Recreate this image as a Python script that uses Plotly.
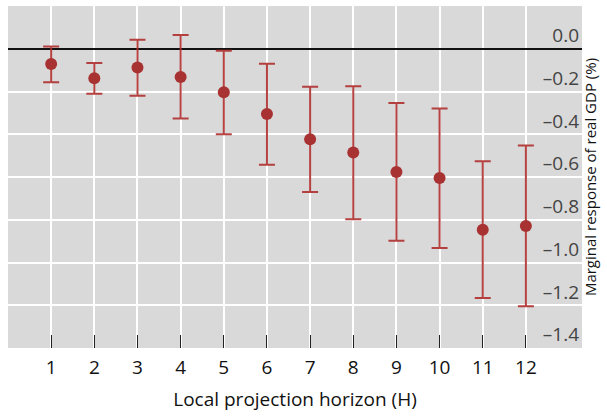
import plotly.graph_objects as go

horizon = [1, 2, 3, 4, 5, 6, 7, 8, 9, 10, 11, 12]
estimate = [-0.071, -0.138, -0.088, -0.132, -0.203, -0.305, -0.423, -0.485, -0.577, -0.605, -0.847, -0.829]
upper = [0.011, -0.067, 0.042, 0.064, -0.009, -0.070, -0.178, -0.175, -0.254, -0.279, -0.526, -0.453]
lower = [-0.157, -0.211, -0.220, -0.326, -0.400, -0.543, -0.670, -0.798, -0.898, -0.932, -1.166, -1.205]

x_tickvals = list(range(0, 13))
x_ticktext = [""] + [str(h) for h in horizon]
y_tickvals = [0.0, -0.2, -0.4, -0.6, -0.8, -1.0, -1.2, -1.4]
y_ticktext = ["0.0", "–0.2", "–0.4", "–0.6", "–0.8", "–1.0", "–1.2", "–1.4"]

color = "#a83232"
err_plus = [u - e for u, e in zip(upper, estimate)]
err_minus = [e - l for e, l in zip(estimate, lower)]

fig = go.Figure()
fig.add_trace(go.Scatter(
    x=horizon, y=estimate, mode="markers",
    marker=dict(color=color, size=12),
    error_y=dict(type="data", symmetric=False, array=err_plus, arrayminus=err_minus,
                 color="rgba(175,45,45,0.9)", thickness=2, width=8),
    showlegend=False,
))

font = "Open Sans, Noto Sans, sans-serif"
fig.update_layout(
    width=607, height=418,
    margin=dict(l=8, r=25, t=6, b=70),
    paper_bgcolor="white", plot_bgcolor="#d9d9d9",
    font=dict(family=font, size=19, color="#111"),
    xaxis=dict(range=[0, 13.3], tickvals=x_tickvals, ticktext=x_ticktext,
               showgrid=True, gridcolor="white", gridwidth=2,
               ticks="inside", ticklen=13, tickcolor="#222", tickwidth=1,
               ticklabelstandoff=6,
               zeroline=False, showline=False,
               title=dict(text="Local projection horizon (H)", font=dict(size=19), standoff=13)),
    yaxis=dict(range=[-1.4, 0.2], side="right", tickvals=y_tickvals, ticktext=y_ticktext,
               ticklabelposition="inside top",
               showgrid=True, gridcolor="white", gridwidth=2,
               zeroline=True, zerolinecolor="#111", zerolinewidth=1.5,
               showline=False,
               title=dict(text="Marginal response of real GDP (%)", font=dict(size=15), standoff=7)),
)

fig.write_html("out.html")
